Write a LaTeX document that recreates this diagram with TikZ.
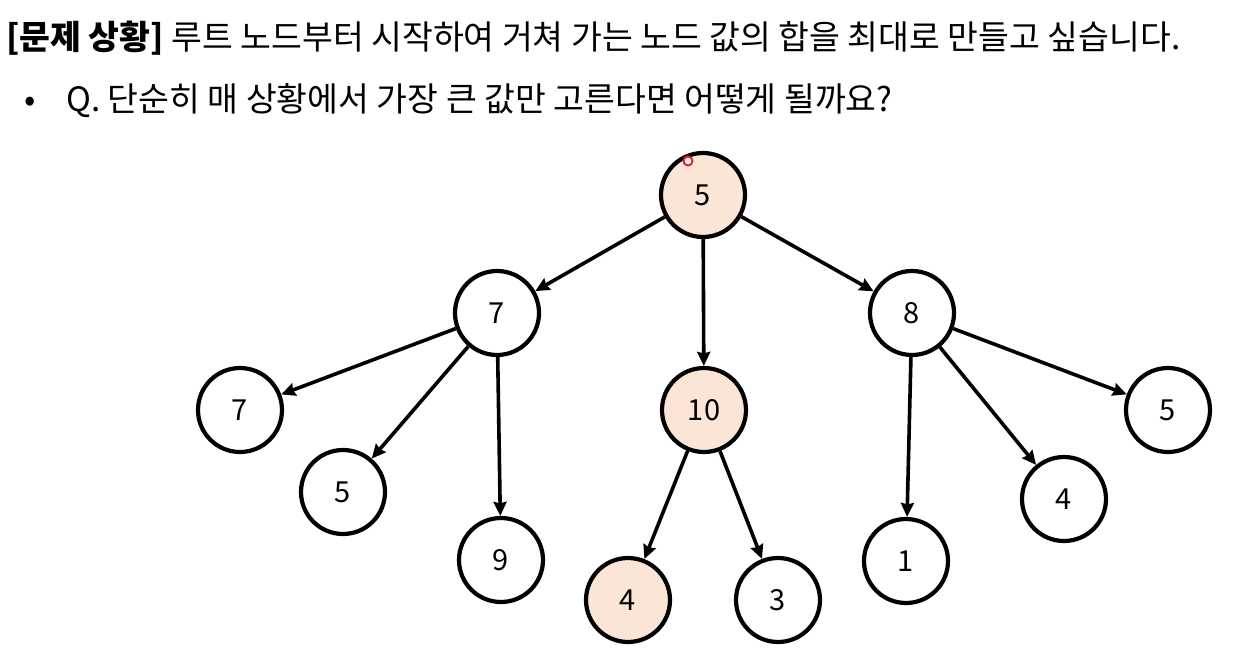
\documentclass[tikz,border=0pt]{standalone}
\usepackage{fontspec}
\setmainfont{Noto Sans CJK KR}
\usepackage{tikz}
\usetikzlibrary{positioning,arrows.meta}
\definecolor{pickfill}{HTML}{FBE5D6}
\definecolor{ptrred}{HTML}{E8202A}

\begin{document}
\begin{tikzpicture}[
  x=1pt, y=-1pt,
  >={Stealth[length=14pt,width=13pt,inset=1.5pt]},
  vtx/.style={draw=black, line width=4.2pt, circle, fill=white,
              minimum size=84pt, inner sep=0pt, font=\fontsize{29}{29}\selectfont},
  pick/.style={vtx, fill=pickfill},
  ar/.style={->, draw=black, line width=3.6pt},
  title/.style={anchor=base west, inner sep=0pt, font=\fontsize{33.5}{33.5}\selectfont}
]
\useasboundingbox (0,0) rectangle (1248,655);

% ==== heading
\node[title] (head) at (6,50)
     {\textbf{[문제 상황]} 루트 노드부터 시작하여 거쳐 가는 노드 값의 합을 최대로 만들고 싶습니다.};
\node[title] (dot) at (24,112) {•};
\node[title] (qline) at (66,112) {Q. 단순히 매 상황에서 가장 큰 값만 고른다면 어떻게 될까요?};

% ==== tree nodes
\node[pick] (r)   at (703,195) {5};
\node[vtx]  (a)   at (497,313) {7};
\node[pick] (b)   at (704,410) {10};
\node[vtx]  (c)   at (912,313) {8};
\node[vtx]  (a1)  at (240,410) {7};
\node[vtx]  (a2)  at (343,492) {5};
\node[vtx]  (a3)  at (501,560) {9};
\node[pick] (b1)  at (628,600) {4};
\node[vtx]  (b2)  at (778,600) {3};
\node[vtx]  (c1)  at (906,561) {1};
\node[vtx]  (c2)  at (1064,499) {4};
\node[vtx]  (c3)  at (1168,410) {5};

% ==== edges
\foreach \u/\v in {r/a, r/b, r/c, a/a1, a/a2, a/a3, b/b1, b/b2, c/c1, c/c2, c/c3} {
  \draw[ar] (\u) -- (\v);
}

% ==== pointer mark
\node[circle, draw=ptrred, line width=2pt, fill=white, minimum size=9pt,
      inner sep=0pt] (ptr) at (688,161) {};
\end{tikzpicture}
\end{document}
